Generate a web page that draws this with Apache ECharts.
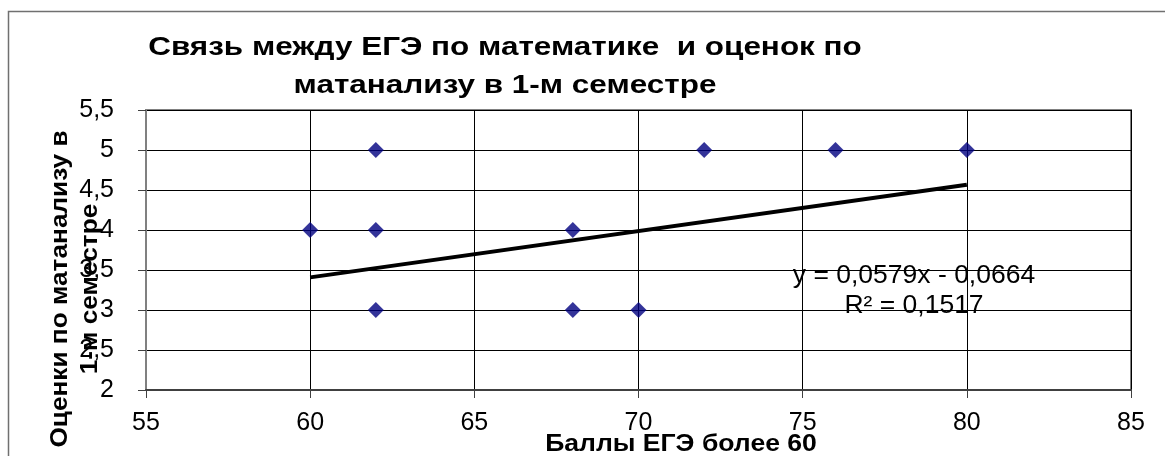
<!DOCTYPE html>
<html>
<head>
<meta charset="utf-8">
<script src="https://cdn.jsdelivr.net/npm/echarts@6/dist/echarts.min.js"></script>
<style>
  html, body { margin: 0; padding: 0; background: #fff; }
  #chart { width: 1165px; height: 456px; }
</style>
</head>
<body>
<div id="chart"></div>
<script>
// Exam score (x) vs. first-semester calculus grade (y)
const egeScores = [60, 62, 62, 62, 68, 68, 70, 72, 76, 80];
const grades    = [4,  5,  4,  3,  4,  3,  3,  5,  5,  5];

// Linear trendline as reported in the equation label
const trendSlope = 0.0579;
const trendIntercept = -0.0664;
const trendRange = [60, 80];
const trendEquation = 'y = 0,0579x - 0,0664';
const trendR2 = 'R² = 0,1517';

const titleLines = ['Связь между ЕГЭ по математике  и оценок по', 'матанализу в 1-м семестре'];
const xAxisTitle = 'Баллы ЕГЭ более 60';
const yAxisTitle = ['Оценки по матанализу в', '1-м семестре'];

const FONT = '"Liberation Sans", Arial, sans-serif';
const comma = v => String(v).replace('.', ',');

const points = egeScores.map((x, i) => [x, grades[i]]);
const trendPoints = trendRange.map(x => [x, trendSlope * x + trendIntercept]);

const chart = echarts.init(document.getElementById('chart'), null, { renderer: 'canvas' });

chart.setOption({
  animation: false,
  backgroundColor: '#ffffff',
  grid: {
    left: 146, right: 34, top: 110, bottom: 66,
    show: true, borderColor: '#808080', borderWidth: 2, backgroundColor: 'transparent'
  },
  xAxis: {
    type: 'value',
    min: 55, max: 85, interval: 5,
    axisLine: { show: true, onZero: false, lineStyle: { color: '#404040', width: 2 } },
    axisTick: { show: true, inside: false, length: 8, lineStyle: { color: '#404040', width: 1 } },
    axisLabel: { fontFamily: FONT, fontSize: 25, color: '#000', margin: 21, formatter: comma },
    splitLine: { show: true, lineStyle: { color: '#000', width: 1 } }
  },
  yAxis: {
    type: 'value',
    min: 2, max: 5.5, interval: 0.5,
    axisLine: { show: true, onZero: false, lineStyle: { color: '#808080', width: 2 } },
    axisTick: { show: true, inside: false, length: 8, lineStyle: { color: '#404040', width: 1 } },
    axisLabel: { fontFamily: FONT, fontSize: 25, color: '#000', margin: 32, formatter: comma },
    splitLine: { show: true, lineStyle: { color: '#000', width: 1 } }
  },
  graphic: [
    {
      type: 'rect', silent: true, z: -1,
      shape: { x: 8.5, y: 11.5, width: 1200, height: 500 },
      style: { fill: 'none', stroke: '#707070', lineWidth: 1.5 }
    },
    {
      // chart title, two centred lines
      type: 'text', silent: true,
      x: 505, y: 67, scaleX: 1.21,
      style: {
        text: titleLines.join('\n'), fontFamily: FONT, fontSize: 26, fontWeight: 'bold',
        fill: '#000', align: 'center', verticalAlign: 'middle', lineHeight: 38
      }
    },
    {
      type: 'text', silent: true,
      x: 681, y: 445, scaleX: 1.155,
      style: {
        text: xAxisTitle, fontFamily: FONT, fontSize: 23, fontWeight: 'bold',
        fill: '#000', align: 'center', verticalAlign: 'middle'
      }
    },
    {
      type: 'text', silent: true,
      x: 76, y: 289, rotation: Math.PI / 2, scaleX: 1.14,
      style: {
        text: yAxisTitle.join('\n'), fontFamily: FONT, fontSize: 23, fontWeight: 'bold',
        fill: '#000', align: 'center', verticalAlign: 'middle', lineHeight: 30
      }
    },
    {
      type: 'text', silent: true, z: 10,
      x: 914, y: 291, scaleX: 1.06,
      style: {
        text: trendEquation + '\n' + trendR2, fontFamily: FONT, fontSize: 25,
        fill: '#000', align: 'center', verticalAlign: 'middle', lineHeight: 30
      }
    }
  ],
  series: [
    {
      type: 'line',
      data: trendPoints,
      symbol: 'none',
      lineStyle: { color: '#000', width: 4 },
      z: 3
    },
    {
      type: 'scatter',
      data: points,
      symbol: 'diamond',
      symbolSize: 16,
      itemStyle: { color: '#000080' },
      z: 4
    }
  ]
});
</script>
</body>
</html>
